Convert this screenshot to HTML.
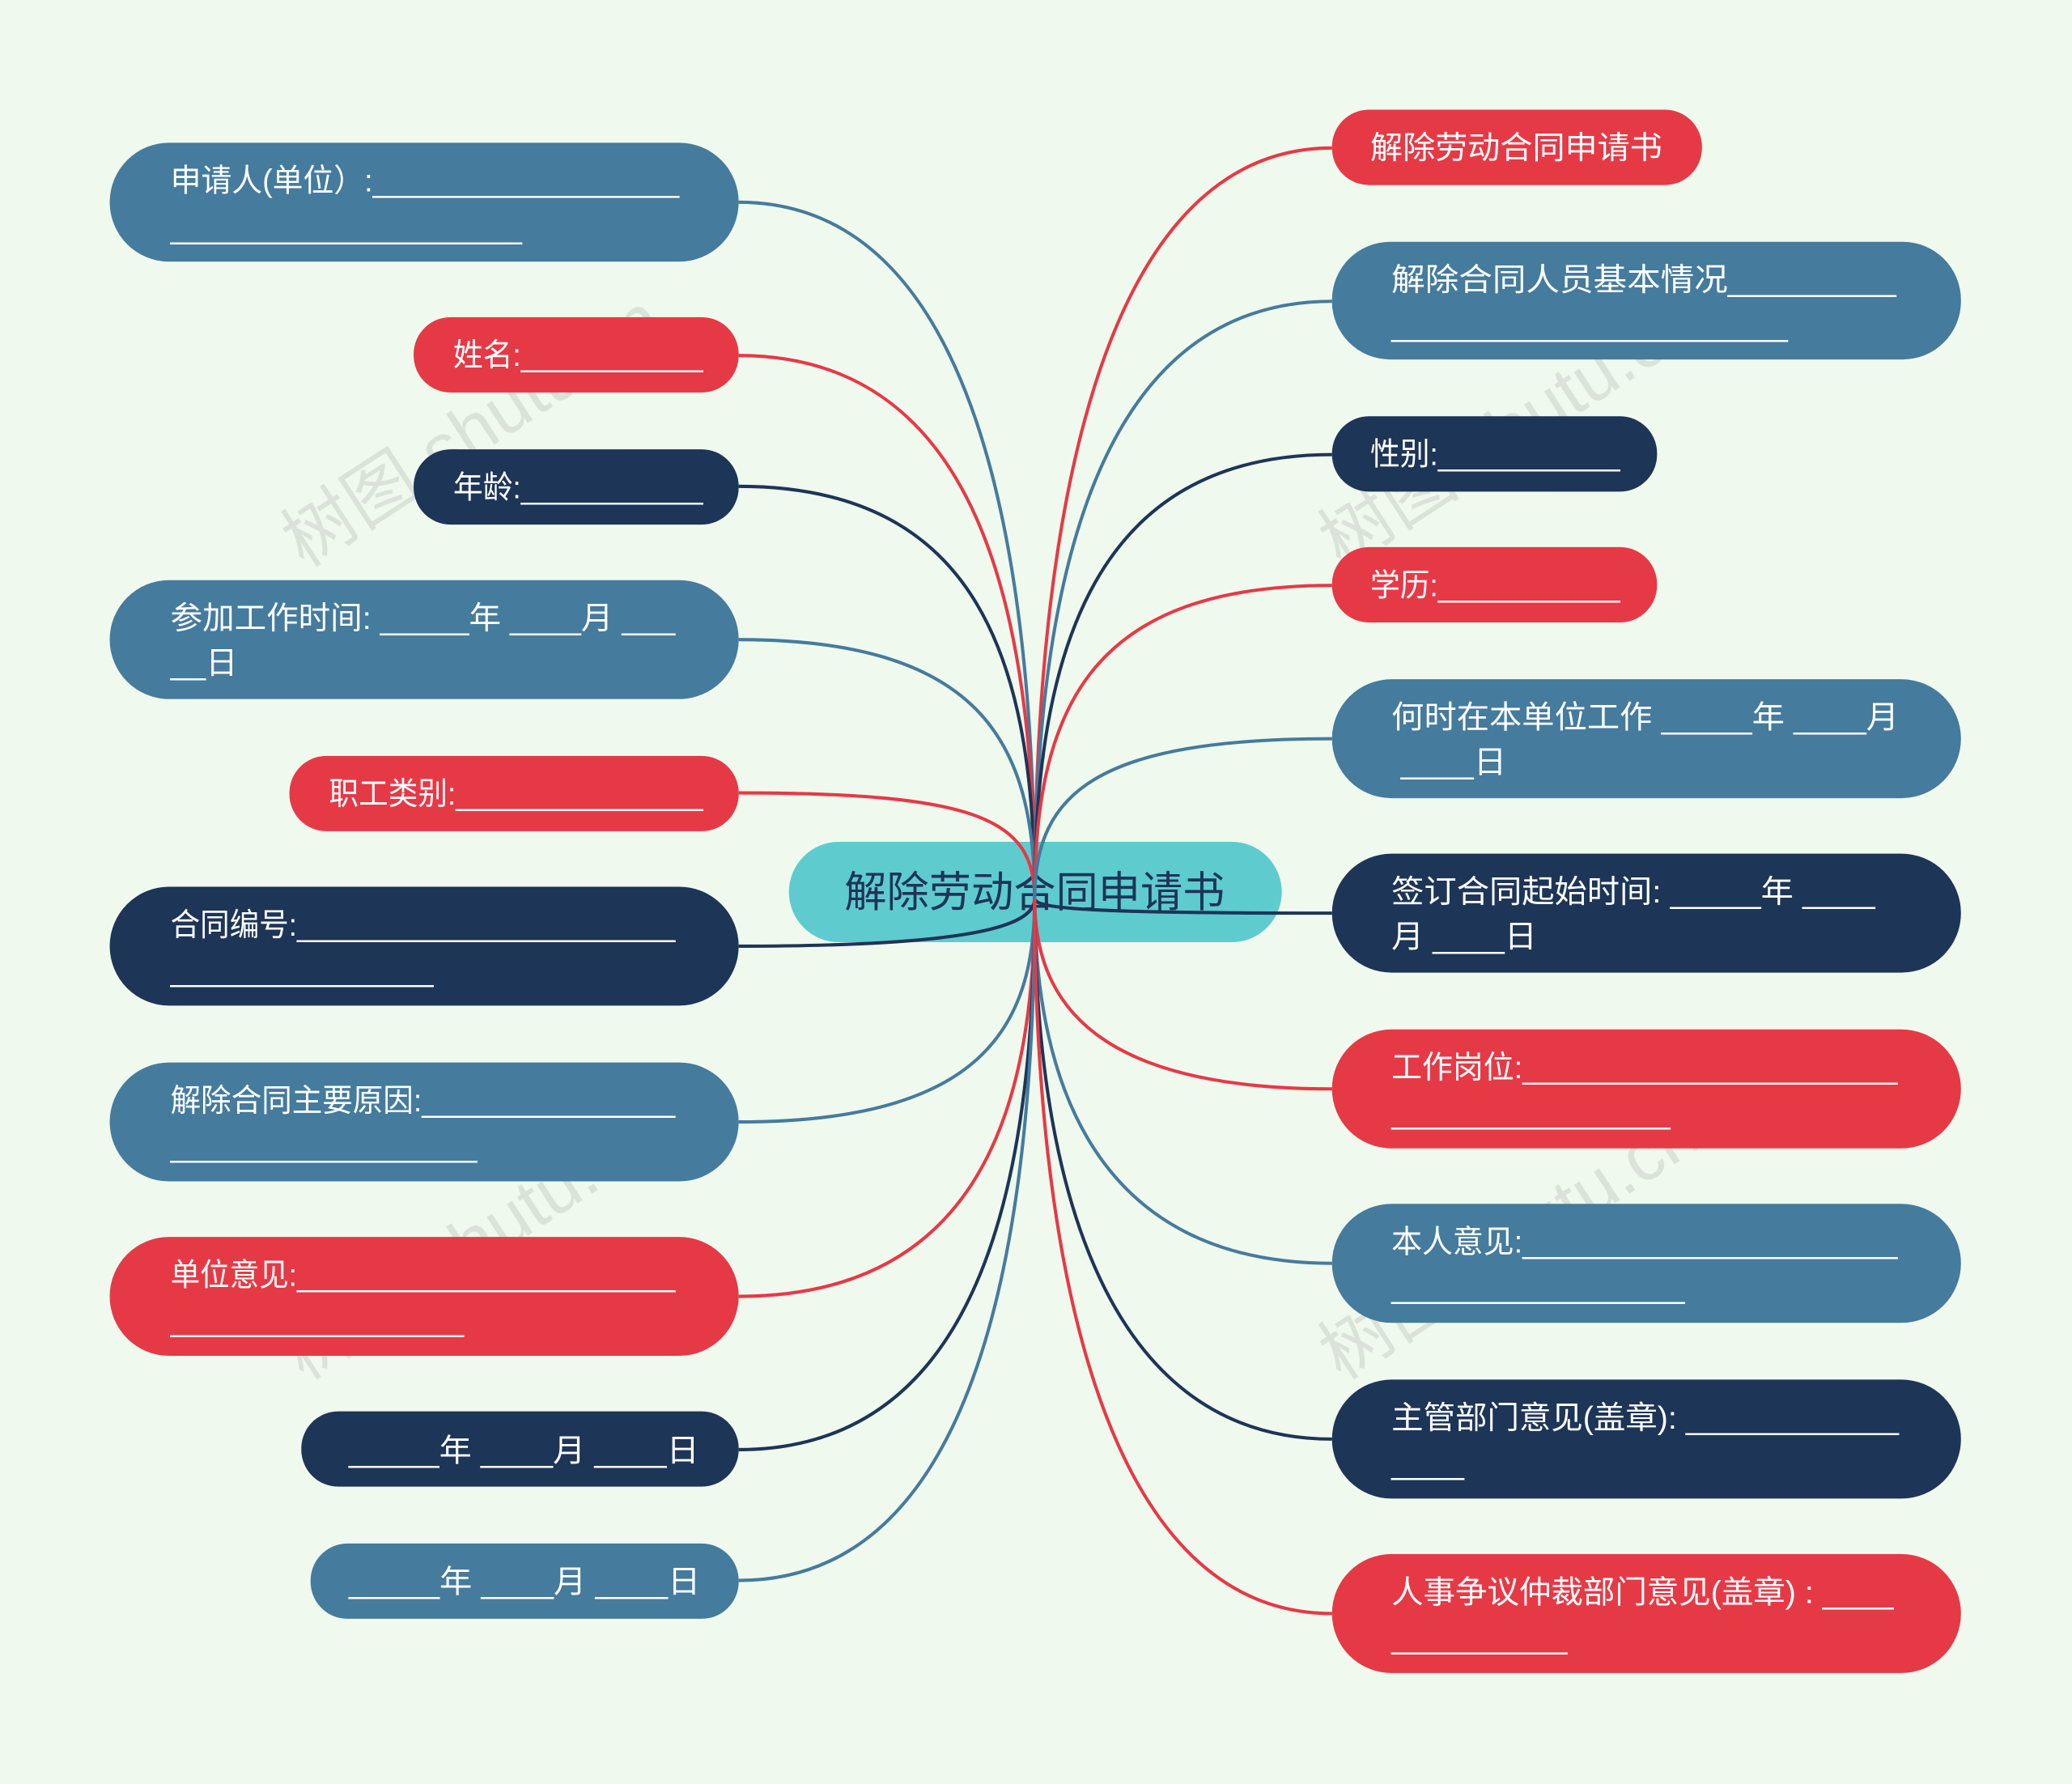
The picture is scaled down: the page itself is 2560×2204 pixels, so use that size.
<!DOCTYPE html>
<html><head><meta charset="utf-8"><style>
html,body{margin:0;padding:0;background:#f0f9ee;}
svg{display:block}
text{font-family:"Liberation Sans","Noto Sans CJK SC",sans-serif;}
.t{fill:#fff;font-size:24px}
</style></head><body>
<svg width="2560" height="2204" viewBox="0 0 1568 1350" xmlns="http://www.w3.org/2000/svg">
<rect width="1568" height="1350" fill="#f0f9ee"/>
<g fill="#c9cfc9" opacity="0.55" font-size="54" font-family="Liberation Serif,Noto Serif CJK SC,serif">
<text transform="translate(230,430) rotate(-33)">树图 shutu.cn</text>
<text transform="translate(1015,430) rotate(-33)">树图 shutu.cn</text>
<text transform="translate(230,1045) rotate(-33)">树图 shutu.cn</text>
<text transform="translate(1015,1045) rotate(-33)">树图 shutu.cn</text>
</g>
<rect x="597" y="637" width="373" height="76" rx="38" fill="#5ecbcf"/>
<text x="783" y="686" text-anchor="middle" font-size="32" fill="#1d3557">解除劳动合同申请书</text>
<rect x="83" y="108" width="476" height="90" rx="45" fill="#457b9d"/>
<text class="t" x="129" y="145" textLength="385" lengthAdjust="spacingAndGlyphs">申请人(单位）:__________________</text>
<text class="t" x="129" y="180" textLength="266" lengthAdjust="spacingAndGlyphs">______________________</text>
<rect x="313" y="240" width="246" height="57" rx="28" fill="#e63946"/>
<text class="t" x="343" y="277" textLength="189" lengthAdjust="spacingAndGlyphs">姓名:___________</text>
<rect x="313" y="340" width="246" height="57" rx="28" fill="#1d3557"/>
<text class="t" x="343" y="377" textLength="189" lengthAdjust="spacingAndGlyphs">年龄:___________</text>
<rect x="83" y="439" width="476" height="90" rx="45" fill="#457b9d"/>
<text class="t" x="129" y="476" textLength="382" lengthAdjust="spacingAndGlyphs">参加工作时间: _____年 ____月 ___</text>
<text class="t" x="129" y="510">__日</text>
<rect x="219" y="572" width="340" height="57" rx="28" fill="#e63946"/>
<text class="t" x="249" y="609" textLength="283" lengthAdjust="spacingAndGlyphs">职工类别:_______________</text>
<rect x="83" y="671" width="476" height="90" rx="45" fill="#1d3557"/>
<text class="t" x="129" y="708" textLength="382" lengthAdjust="spacingAndGlyphs">合同编号:_______________________</text>
<text class="t" x="129" y="742" textLength="199" lengthAdjust="spacingAndGlyphs">________________</text>
<rect x="83" y="804" width="476" height="90" rx="45" fill="#457b9d"/>
<text class="t" x="129" y="841" textLength="382" lengthAdjust="spacingAndGlyphs">解除合同主要原因:_______________</text>
<text class="t" x="129" y="875" textLength="232" lengthAdjust="spacingAndGlyphs">___________________</text>
<rect x="83" y="936" width="476" height="90" rx="45" fill="#e63946"/>
<text class="t" x="129" y="973" textLength="382" lengthAdjust="spacingAndGlyphs">单位意见:_______________________</text>
<text class="t" x="129" y="1007" textLength="222" lengthAdjust="spacingAndGlyphs">__________________</text>
<rect x="228" y="1068" width="331" height="57" rx="28" fill="#1d3557"/>
<text class="t" x="264" y="1106" textLength="265" lengthAdjust="spacingAndGlyphs">_____年 ____月 ____日</text>
<rect x="235" y="1168" width="324" height="57" rx="28" fill="#457b9d"/>
<text class="t" x="264" y="1205" textLength="266" lengthAdjust="spacingAndGlyphs">_____年 ____月 ____日</text>
<rect x="1008" y="83" width="280" height="57" rx="28" fill="#e63946"/>
<text class="t" x="1037" y="120" textLength="221" lengthAdjust="spacingAndGlyphs">解除劳动合同申请书</text>
<rect x="1008" y="183" width="476" height="89" rx="44" fill="#457b9d"/>
<text class="t" x="1053" y="220" textLength="382" lengthAdjust="spacingAndGlyphs">解除合同人员基本情况_________</text>
<text class="t" x="1053" y="254" textLength="300" lengthAdjust="spacingAndGlyphs">________________________</text>
<rect x="1008" y="315" width="246" height="57" rx="28" fill="#1d3557"/>
<text class="t" x="1037" y="352" textLength="189" lengthAdjust="spacingAndGlyphs">性别:___________</text>
<rect x="1008" y="414" width="246" height="57" rx="28" fill="#e63946"/>
<text class="t" x="1037" y="451" textLength="189" lengthAdjust="spacingAndGlyphs">学历:___________</text>
<rect x="1008" y="514" width="476" height="90" rx="45" fill="#457b9d"/>
<text class="t" x="1053" y="551" textLength="384" lengthAdjust="spacingAndGlyphs">何时在本单位工作 _____年 ____月</text>
<text class="t" x="1060" y="585" textLength="80" lengthAdjust="spacingAndGlyphs">____日</text>
<rect x="1008" y="646" width="476" height="90" rx="45" fill="#1d3557"/>
<text class="t" x="1053" y="683" textLength="366" lengthAdjust="spacingAndGlyphs">签订合同起始时间: _____年 ____</text>
<text class="t" x="1053" y="717" textLength="110" lengthAdjust="spacingAndGlyphs">月 ____日</text>
<rect x="1008" y="779" width="476" height="90" rx="45" fill="#e63946"/>
<text class="t" x="1053" y="816" textLength="383" lengthAdjust="spacingAndGlyphs">工作岗位:______________________</text>
<text class="t" x="1053" y="850" textLength="211" lengthAdjust="spacingAndGlyphs">_________________</text>
<rect x="1008" y="911" width="476" height="90" rx="45" fill="#457b9d"/>
<text class="t" x="1053" y="948" textLength="383" lengthAdjust="spacingAndGlyphs">本人意见:______________________</text>
<text class="t" x="1053" y="982" textLength="222" lengthAdjust="spacingAndGlyphs">__________________</text>
<rect x="1008" y="1044" width="476" height="90" rx="45" fill="#1d3557"/>
<text class="t" x="1053" y="1081" textLength="384" lengthAdjust="spacingAndGlyphs">主管部门意见(盖章): ____________</text>
<text class="t" x="1053" y="1115" textLength="55" lengthAdjust="spacingAndGlyphs">____</text>
<rect x="1008" y="1176" width="476" height="90" rx="45" fill="#e63946"/>
<text class="t" x="1053" y="1213" textLength="380" lengthAdjust="spacingAndGlyphs">人事争议仲裁部门意见(盖章) : ____</text>
<text class="t" x="1053" y="1247" textLength="133" lengthAdjust="spacingAndGlyphs">__________</text>
<g fill="none" stroke-width="2.5">
<path d="M559,153 C740,153 783,420 783,680" stroke="#457b9d"/>
<path d="M559,269 C740,269 783,460 783,680" stroke="#e63946"/>
<path d="M559,368 C740,368 783,500 783,680" stroke="#1d3557"/>
<path d="M559,484 C740,484 783,560 783,680" stroke="#457b9d"/>
<path d="M559,600 C740,600 783,620 783,680" stroke="#e63946"/>
<path d="M559,716 C740,716 783,700 783,680" stroke="#1d3557"/>
<path d="M559,849 C740,849 783,780 783,680" stroke="#457b9d"/>
<path d="M559,981 C740,981 783,840 783,680" stroke="#e63946"/>
<path d="M559,1097 C740,1097 783,900 783,680" stroke="#1d3557"/>
<path d="M559,1196 C740,1196 783,940 783,680" stroke="#457b9d"/>
<path d="M1008,112 C830,112 783,400 783,680" stroke="#e63946"/>
<path d="M1008,228 C830,228 783,440 783,680" stroke="#457b9d"/>
<path d="M1008,344 C830,344 783,490 783,680" stroke="#1d3557"/>
<path d="M1008,443 C830,443 783,530 783,680" stroke="#e63946"/>
<path d="M1008,559 C830,559 783,600 783,680" stroke="#457b9d"/>
<path d="M1008,691 C830,691 783,688 783,680" stroke="#1d3557"/>
<path d="M1008,824 C830,824 783,760 783,680" stroke="#e63946"/>
<path d="M1008,956 C830,956 783,820 783,680" stroke="#457b9d"/>
<path d="M1008,1089 C830,1089 783,880 783,680" stroke="#1d3557"/>
<path d="M1008,1221 C830,1221 783,940 783,680" stroke="#e63946"/>
</g>
</svg>
</body></html>
